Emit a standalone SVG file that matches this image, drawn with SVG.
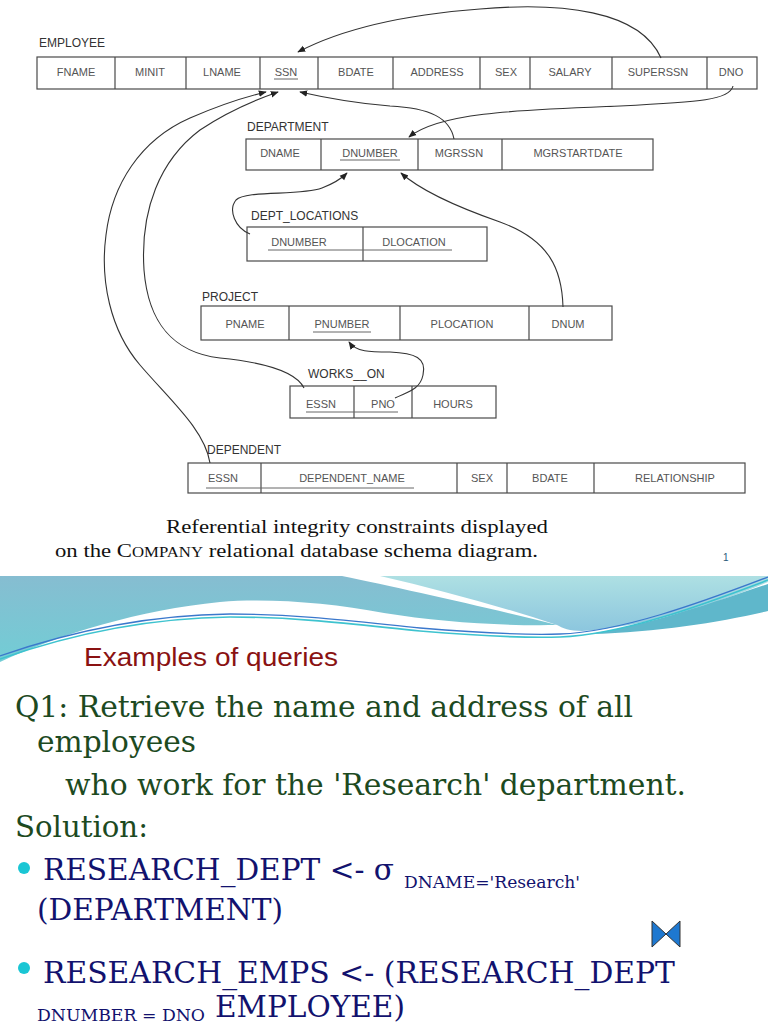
<svg xmlns="http://www.w3.org/2000/svg" width="768" height="1024" viewBox="0 0 768 1024">
<defs>
<style>
.cell{fill:#fff;stroke:#4a4a4a;stroke-width:1.2}
.div{stroke:#4a4a4a;stroke-width:1.2}
.t{font-family:"Liberation Sans",Arial,sans-serif;font-size:11px;fill:#555;text-anchor:middle}
.lbl{font-family:"Liberation Sans",Arial,sans-serif;font-size:12px;fill:#333}
.ul{stroke:#666;stroke-width:1}
.con{fill:none;stroke:#333;stroke-width:1.1;marker-end:url(#ah)}
.cap{font-family:"Liberation Serif","Times New Roman",serif;font-size:19px;fill:#111}
.q{font-family:"DejaVu Serif",serif;font-size:29px;fill:#1d4a1f}
.b{font-family:"DejaVu Serif",serif;font-size:30px;fill:#12126e}
.bs{font-family:"DejaVu Serif",serif;font-size:16px;fill:#12126e}
</style>
<marker id="ah" viewBox="0 0 10 10" refX="9" refY="5" markerWidth="8" markerHeight="8" markerUnits="userSpaceOnUse" orient="auto">
<path d="M0,1 L10,5 L0,9 Z" fill="#222"/>
</marker>
<linearGradient id="gTeal" x1="0" y1="0" x2="0" y2="1">
<stop offset="0" stop-color="#86bdd1"/>
<stop offset="1" stop-color="#72cdd5"/>
</linearGradient>
<linearGradient id="gAqua" x1="0" y1="0" x2="0" y2="1">
<stop offset="0" stop-color="#aee0e3"/>
<stop offset="1" stop-color="#8cc6de"/>
</linearGradient>
</defs>
<rect width="768" height="1024" fill="#fff"/>

<!-- EMPLOYEE -->
<g id="employee">
<text class="lbl" x="39" y="47">EMPLOYEE</text>
<rect class="cell" x="37" y="57" width="720" height="32"/>
<path class="div" d="M115,57V89M186,57V89M260,57V89M318,57V89M393,57V89M480,57V89M530,57V89M612,57V89M707,57V89"/>
<text class="t" x="76" y="76">FNAME</text>
<text class="t" x="150" y="76">MINIT</text>
<text class="t" x="222" y="76">LNAME</text>
<text class="t" x="286" y="76">SSN</text>
<line class="ul" x1="274" y1="79" x2="298" y2="79"/>
<text class="t" x="356" y="76">BDATE</text>
<text class="t" x="437" y="76">ADDRESS</text>
<text class="t" x="506" y="76">SEX</text>
<text class="t" x="570" y="76">SALARY</text>
<text class="t" x="658" y="76">SUPERSSN</text>
<text class="t" x="731" y="76">DNO</text>
</g>

<!-- DEPARTMENT -->
<g id="department">
<text class="lbl" x="247" y="131">DEPARTMENT</text>
<rect class="cell" x="246" y="139" width="407" height="31"/>
<path class="div" d="M321,139V170M418,139V170M502,139V170"/>
<text class="t" x="280" y="157">DNAME</text>
<text class="t" x="370" y="157">DNUMBER</text>
<line class="ul" x1="340" y1="160" x2="400" y2="160"/>
<text class="t" x="459" y="157">MGRSSN</text>
<text class="t" x="578" y="157">MGRSTARTDATE</text>
</g>

<!-- DEPT_LOCATIONS -->
<g id="dept_locations">
<text class="lbl" x="251" y="220">DEPT_LOCATIONS</text>
<rect class="cell" x="247" y="227" width="240" height="34"/>
<path class="div" d="M363,227V261"/>
<text class="t" x="299" y="246">DNUMBER</text>
<text class="t" x="414" y="246">DLOCATION</text>
<line class="ul" x1="268" y1="250" x2="452" y2="250"/>
</g>

<!-- PROJECT -->
<g id="project">
<text class="lbl" x="202" y="301">PROJECT</text>
<rect class="cell" x="201" y="306" width="411" height="34"/>
<path class="div" d="M289,306V340M400,306V340M529,306V340"/>
<text class="t" x="245" y="328">PNAME</text>
<text class="t" x="342" y="328">PNUMBER</text>
<line class="ul" x1="313" y1="332" x2="371" y2="332"/>
<text class="t" x="462" y="328">PLOCATION</text>
<text class="t" x="568" y="328">DNUM</text>
</g>

<!-- WORKS_ON -->
<g id="works_on">
<text class="lbl" x="308" y="378">WORKS__ON</text>
<rect class="cell" x="290" y="386" width="206" height="32"/>
<path class="div" d="M354,386V418M412,386V418"/>
<text class="t" x="321" y="408">ESSN</text>
<text class="t" x="383" y="408">PNO</text>
<text class="t" x="453" y="408">HOURS</text>
<line class="ul" x1="306" y1="412" x2="398" y2="412"/>
</g>

<!-- DEPENDENT -->
<g id="dependent">
<text class="lbl" x="207" y="454">DEPENDENT</text>
<rect class="cell" x="188" y="463" width="557" height="30"/>
<path class="div" d="M261,463V493M457,463V493M507,463V493M594,463V493"/>
<text class="t" x="223" y="482">ESSN</text>
<text class="t" x="352" y="482">DEPENDENT_NAME</text>
<line class="ul" x1="206" y1="488" x2="414" y2="488"/>
<text class="t" x="482" y="482">SEX</text>
<text class="t" x="550" y="482">BDATE</text>
<text class="t" x="675" y="482">RELATIONSHIP</text>
</g>

<!-- connectors -->
<g id="connectors">
<path class="con" d="M661,58 C640,10 560,2 480,9 C400,15 340,30 298,52"/>
<path class="con" d="M733,86 C730,100 700,102 620,106 C520,110 440,112 409,137"/>
<path class="con" d="M454,139 C450,118 430,108 390,106 C350,103 322,97 300,92"/>
<path class="con" d="M250,234 C235,228 228,210 236,200 C246,190 300,196 322,188 C335,183 342,178 347,173"/>
<path class="con" d="M563,307 C562,270 550,240 500,222 C460,208 420,190 401,173"/>
<path class="con" d="M395,398 C407,392 420,390 423,375 C427,358 415,353 390,352 C370,352 356,352 349,342"/>
<path class="con" d="M304,388 C295,370 260,362 220,358 C170,352 148,320 144,270 C140,210 160,160 200,130 C230,110 255,100 278,92"/>
<path class="con" d="M210,463 C205,430 170,400 140,365 C110,330 100,280 106,235 C112,185 140,140 190,118 C220,105 245,97 266,92"/>
</g>

<!-- caption -->
<g id="caption">
<text class="cap" x="166" y="533" textLength="382" lengthAdjust="spacingAndGlyphs">Referential integrity constraints displayed</text>
<text class="cap" x="55" y="557" textLength="483" lengthAdjust="spacingAndGlyphs">on the <tspan>C</tspan><tspan font-size="14">OMPANY</tspan> relational database schema diagram.</text>
<text x="723" y="561" font-family="Liberation Sans,Arial,sans-serif" font-size="10" fill="#2a5a7a">1</text>
</g>

<!-- banner -->
<g id="banner">
<path d="M0,576 H342 C400,588 490,608 557,625 C500,626 440,622 384,613 C330,603 270,598 220,602 C140,610 60,634 0,662 Z" fill="url(#gTeal)"/>
<path d="M380,576 H768 V582 C720,602 650,626 582,631 C570,631 562,628 557,625 C500,606 440,590 380,576 Z" fill="url(#gAqua)"/>
<path d="M590,634 C650,625 720,600 768,584 V611 C720,622 660,632 590,634 Z" fill="#5fb7cb"/>
<path d="M0,659 C60,638 140,618 230,617 C300,617 360,625 420,631 C480,636 530,638 560,637 C620,635 700,606 768,580" fill="none" stroke="#3ec3cf" stroke-width="1.6"/>
<path d="M0,656 C60,635 140,615 230,614 C300,614 360,622 420,628 C480,633 530,635 560,634 C620,632 700,603 768,577" fill="none" stroke="#3b78cc" stroke-width="1.3"/>
</g>

<!-- slide text -->
<g id="slide">
<text x="84" y="666" font-family="Liberation Sans,Arial,sans-serif" font-size="26" fill="#8a1212" textLength="254" lengthAdjust="spacingAndGlyphs">Examples of queries</text>
<text class="q" x="15" y="717" textLength="618" lengthAdjust="spacingAndGlyphs">Q1: Retrieve the name and address of all</text>
<text class="q" x="37" y="752" textLength="159" lengthAdjust="spacingAndGlyphs">employees</text>
<text class="q" x="65" y="795" textLength="621" lengthAdjust="spacingAndGlyphs">who work for the 'Research' department.</text>
<text class="q" x="15" y="837" textLength="133" lengthAdjust="spacingAndGlyphs">Solution:</text>
<circle cx="24" cy="868" r="6" fill="#1ac6d4"/>
<text class="b" x="43" y="880" textLength="351" lengthAdjust="spacingAndGlyphs">RESEARCH_DEPT &lt;- σ</text>
<text class="bs" x="404" y="888" textLength="176" lengthAdjust="spacingAndGlyphs">DNAME='Research'</text>
<text class="b" x="37" y="920" textLength="246" lengthAdjust="spacingAndGlyphs">(DEPARTMENT)</text>
<path d="M652,921 L666,934 L680,921 L680,947 L666,934 L652,947 Z" fill="#1e78d0" stroke="#333" stroke-width="1"/>
<circle cx="24" cy="968" r="6" fill="#1ac6d4"/>
<text class="b" x="43" y="983" textLength="632" lengthAdjust="spacingAndGlyphs">RESEARCH_EMPS &lt;- (RESEARCH_DEPT</text>
<text class="b" x="215" y="1017" textLength="190" lengthAdjust="spacingAndGlyphs">EMPLOYEE)</text>
<text class="bs" x="37" y="1021" textLength="168" lengthAdjust="spacingAndGlyphs">DNUMBER = DNO</text>
</g>
</svg>
